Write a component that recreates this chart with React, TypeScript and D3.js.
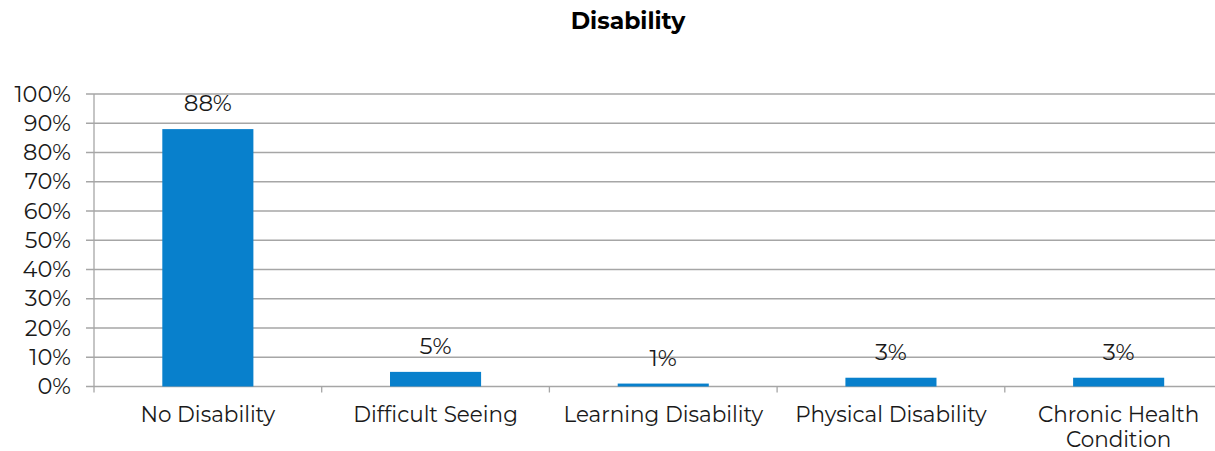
import React from "react";
import * as d3 from "d3";

const categories = [
  ["No Disability"],
  ["Difficult Seeing"],
  ["Learning Disability"],
  ["Physical Disability"],
  ["Chronic Health", "Condition"],
];
const values = [88, 5, 1, 3, 3];
const yTicks = [0, 10, 20, 30, 40, 50, 60, 70, 80, 90, 100];

const W = 1215;
const H = 451;
// plot area runs past the right edge of the picture, as in the original
const margin = { top: 94, right: -17.5, bottom: 64.5, left: 94 };
const font = "Montserrat, 'Open Sans', sans-serif";

export default function App() {
  const innerW = W - margin.left - margin.right;
  const innerH = H - margin.top - margin.bottom;

  const x = d3
    .scaleBand<number>()
    .domain(d3.range(values.length))
    .range([0, innerW])
    .paddingInner(0.6)
    .paddingOuter(0.3);
  const step = innerW / values.length;
  const y = d3.scaleLinear().domain([0, 100]).range([innerH, 0]);

  return (
    <svg
      width={W}
      height={H}
      style={{ position: "absolute", left: 0, top: 0, background: "#fff" }}
      fontFamily={font}
    >
      <text x={628} y={29} textAnchor="middle" fontSize={23.5} fontWeight="bold" fill="#000">
        Disability
      </text>
      <g transform={`translate(${margin.left},${margin.top})`}>
        {yTicks.map((t) => (
          <g key={t}>
            <line x1={-8} x2={innerW} y1={y(t)} y2={y(t)} stroke="#a6a6a6" strokeWidth={1.3} />
            <text x={-23} y={y(t) + 7.5} textAnchor="end" fontSize={22.5} fill="#1a1a1a">
              {t}%
            </text>
          </g>
        ))}
        <line x1={0} x2={0} y1={0} y2={innerH + 6} stroke="#a6a6a6" strokeWidth={1.3} />
        {d3.range(1, values.length + 1).map((i) => (
          <line
            key={i}
            x1={i * step}
            x2={i * step}
            y1={innerH}
            y2={innerH + 6}
            stroke="#a6a6a6"
            strokeWidth={1.3}
          />
        ))}
        {values.map((v, i) => (
          <g key={i}>
            <rect
              x={x(i)!}
              y={y(v)}
              width={x.bandwidth()}
              height={innerH - y(v)}
              fill="#0880cc"
            />
            <text
              x={x(i)! + x.bandwidth() / 2}
              y={y(v) - 18}
              textAnchor="middle"
              fontSize={23}
              fill="#1a1a1a"
            >
              {v}%
            </text>
          </g>
        ))}
        {categories.map((lines, i) => (
          <text
            key={i}
            x={x(i)! + x.bandwidth() / 2}
            textAnchor="middle"
            fontSize={21.5}
            fill="#1a1a1a"
          >
            {lines.map((l, j) => (
              <tspan key={j} x={x(i)! + x.bandwidth() / 2} y={innerH + 35 + j * 25}>
                {l}
              </tspan>
            ))}
          </text>
        ))}
      </g>
    </svg>
  );
}
